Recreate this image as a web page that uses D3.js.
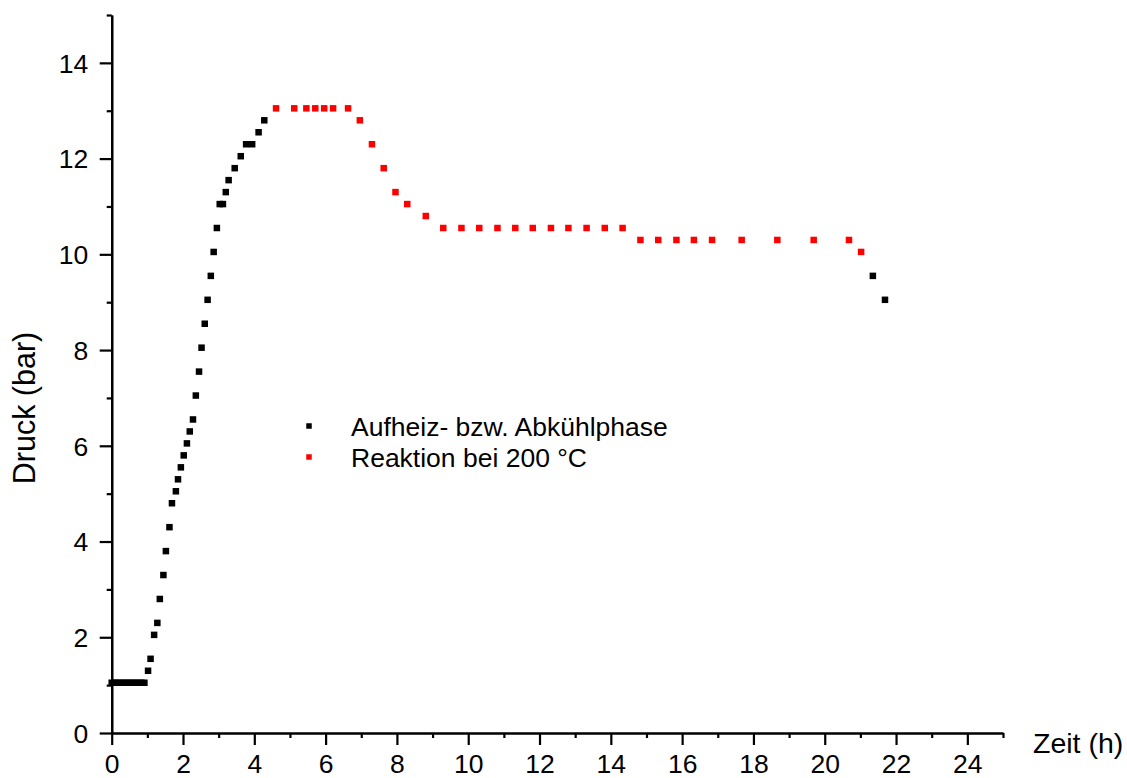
<!DOCTYPE html>
<html>
<head>
<meta charset="utf-8">
<script src="https://cdn.jsdelivr.net/npm/d3@7"></script>
<style>
  html, body { margin: 0; padding: 0; background: #fff; }
  svg { display: block; font-family: "Liberation Sans", Arial, sans-serif; }
</style>
</head>
<body>
<svg id="chart" width="1127" height="778"></svg>
<script>
// ---- Data ----
// Aufheiz- bzw. Abkühlphase (black)
const heatTime = [0, 0.083, 0.167, 0.25, 0.333, 0.417, 0.5, 0.583, 0.667, 0.75, 0.833, 0.917,
  1.02, 1.09, 1.19, 1.28, 1.35, 1.45, 1.52, 1.62, 1.69, 1.80, 1.86, 1.94, 2.02, 2.11, 2.19, 2.28,
  2.36, 2.45, 2.52, 2.61, 2.69, 2.78, 2.86, 2.95, 3.03, 3.12, 3.20, 3.28, 3.45, 3.62, 3.77, 3.94,
  4.12, 4.28, 21.35, 21.69];
const heatPressure = [1.05, 1.05, 1.05, 1.05, 1.05, 1.05, 1.05, 1.05, 1.05, 1.05, 1.05, 1.05,
  1.30, 1.55, 2.05, 2.30, 2.80, 3.30, 3.80, 4.30, 4.80, 5.05, 5.30, 5.55, 5.80, 6.05, 6.30, 6.55,
  7.05, 7.55, 8.05, 8.55, 9.05, 9.55, 10.05, 10.55, 11.05, 11.05, 11.30, 11.55, 11.80, 12.05, 12.30, 12.30,
  12.55, 12.80, 9.55, 9.05];
// Reaktion bei 200 °C (red)
const reactTime = [4.61, 5.12, 5.46, 5.71, 5.96, 6.21, 6.63, 6.96, 7.30, 7.63, 7.96, 8.29, 8.81,
  9.30, 9.81, 10.31, 10.82, 11.32, 11.81, 12.32, 12.81, 13.32, 13.83, 14.33,
  14.83, 15.33, 15.84, 16.33, 16.84, 17.67, 18.67, 19.69, 20.68, 21.02];
const reactPressure = [13.05, 13.05, 13.05, 13.05, 13.05, 13.05, 13.05, 12.80, 12.30, 11.80, 11.30, 11.05, 10.80,
  10.55, 10.55, 10.55, 10.55, 10.55, 10.55, 10.55, 10.55, 10.55, 10.55, 10.55,
  10.30, 10.30, 10.30, 10.30, 10.30, 10.30, 10.30, 10.30, 10.30, 10.05];

const xMajorTicks = [0, 2, 4, 6, 8, 10, 12, 14, 16, 18, 20, 22, 24];
const xMinorTicks = [1, 3, 5, 7, 9, 11, 13, 15, 17, 19, 21, 23, 25];
const yMajorTicks = [0, 2, 4, 6, 8, 10, 12, 14];
const yMinorTicks = [1, 3, 5, 7, 9, 11, 13, 15];

const seriesNames = ["Aufheiz- bzw. Abkühlphase", "Reaktion bei 200 °C"];
const seriesColors = ["#000000", "#ff0000"];
const xTitle = "Zeit (h)";
const yTitle = "Druck (bar)";

// ---- Layout ----
const svg = d3.select("#chart");
const plotLeft = 111.7, plotRight = 1003, plotTop = 15, plotBottom = 733;
const x = d3.scaleLinear().domain([0, 25]).range([plotLeft, plotRight]);
const y = d3.scaleLinear().domain([0, 15]).range([plotBottom, plotTop]);
const tickFont = 26.5;
const legendFont = 26.5;
const fontFam = "Liberation Sans, Arial, sans-serif";

// X axis
const gxMinor = svg.append("g").attr("transform", `translate(0,${plotBottom})`)
  .call(d3.axisBottom(x).tickValues(xMinorTicks).tickSize(5).tickSizeOuter(0).tickFormat(""));
const gx = svg.append("g").attr("transform", `translate(0,${plotBottom})`)
  .call(d3.axisBottom(x).tickValues(xMajorTicks).tickSize(12).tickSizeOuter(0).tickFormat(d3.format("d")));
[gxMinor, gx].forEach(g => {
  g.selectAll("path.domain").attr("stroke", "#000").attr("stroke-width", 2.2);
  g.selectAll(".tick line").attr("stroke", "#000").attr("stroke-width", 2.2);
});
gx.selectAll(".tick text").attr("y", 39.5).attr("dy", 0)
  .attr("font-size", tickFont).attr("font-family", fontFam).attr("fill", "#000");

// Y axis
const gyMinor = svg.append("g").attr("transform", `translate(${plotLeft},0)`)
  .call(d3.axisLeft(y).tickValues(yMinorTicks).tickSize(5).tickSizeOuter(0).tickFormat(""));
const gy = svg.append("g").attr("transform", `translate(${plotLeft},0)`)
  .call(d3.axisLeft(y).tickValues(yMajorTicks).tickSize(12).tickSizeOuter(0).tickFormat(d3.format("d")));
[gyMinor, gy].forEach(g => {
  g.selectAll("path.domain").attr("stroke", "#000").attr("stroke-width", 2.2);
  g.selectAll(".tick line").attr("stroke", "#000").attr("stroke-width", 2.2);
});
gy.selectAll(".tick text").attr("x", -23.5).attr("dy", "0.35em")
  .attr("font-size", tickFont).attr("font-family", fontFam).attr("fill", "#000");

// Axis titles
svg.append("text").attr("x", 1033).attr("y", 753)
  .attr("font-size", 28.5).attr("font-family", fontFam).attr("fill", "#000").text(xTitle);
svg.append("text").attr("transform", `translate(35,408) rotate(-90)`)
  .attr("text-anchor", "middle").attr("font-size", 30.5).attr("font-family", fontFam)
  .attr("fill", "#000").text(yTitle);

// Markers
const ms = 6.5;
function drawSeries(times, values, color) {
  const data = times.map((t, i) => ({ t, v: values[i] }));
  svg.append("g").selectAll("rect").data(data).join("rect")
    .attr("x", d => x(d.t) - ms / 2)
    .attr("y", d => y(d.v) - ms / 2)
    .attr("width", ms).attr("height", ms)
    .attr("fill", color);
}
drawSeries(heatTime, heatPressure, seriesColors[0]);
drawSeries(reactTime, reactPressure, seriesColors[1]);

// Legend
const legend = svg.append("g");
seriesNames.forEach((name, i) => {
  const cy = 426 + i * 31;
  legend.append("rect").attr("x", 309 - 2.75).attr("y", cy - 2.75)
    .attr("width", 5.5).attr("height", 5.5).attr("fill", seriesColors[i]);
  legend.append("text").attr("x", 351).attr("y", cy + 10)
    .attr("font-size", legendFont).attr("font-family", fontFam).attr("fill", "#000").text(name);
});
</script>
</body>
</html>
